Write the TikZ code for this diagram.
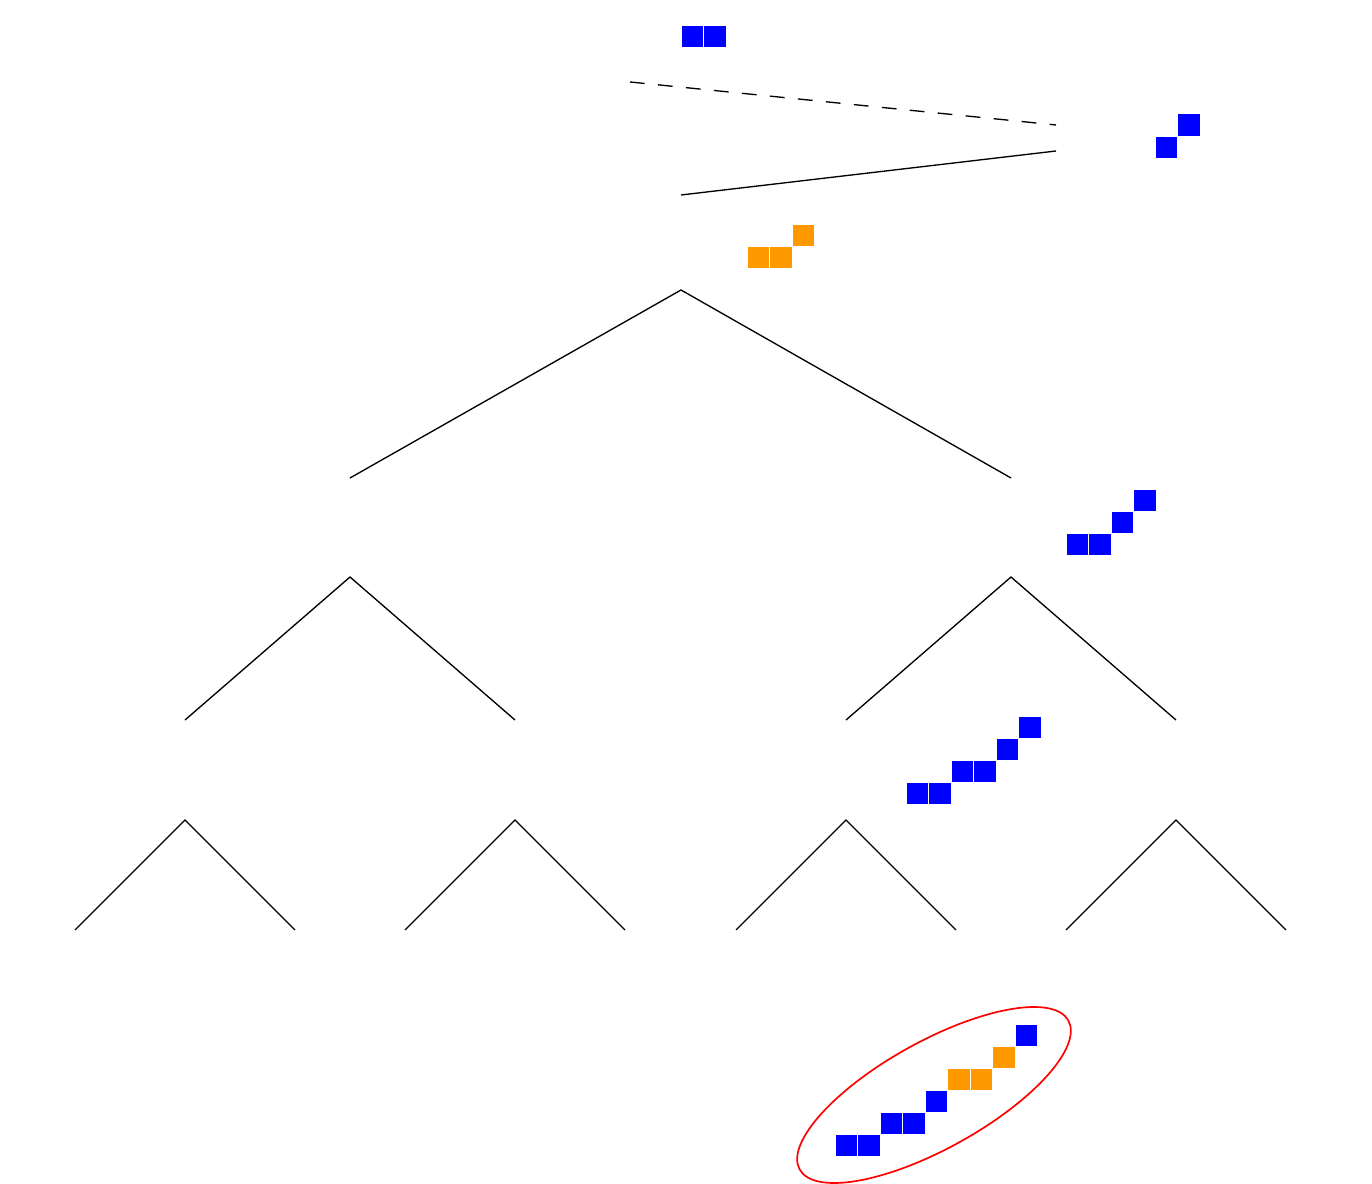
\documentclass[tikz,border=0pt]{standalone}
\usetikzlibrary{shapes.geometric,positioning}
\definecolor{cellblue}{RGB}{0,0,255}
\definecolor{cellorange}{RGB}{255,153,0}
\tikzset{
  cell/.style={draw=white, line width=0.7pt},
  branch/.style={line width=0.95pt},
  loopline/.style={branch, dash pattern=on 10.5pt off 9.5pt},
  pick/.style={draw=red, line width=1.2pt, ellipse, rotate=29, minimum width=7.68cm, minimum height=2.68cm, inner sep=0pt},
}
% one block of cells: anchor, colour, list of col/row
\newcommand{\cells}[3]{%
  \foreach \c/\r in {#3} \filldraw[cell, fill=#2] (#1) ++(\c*0.5625,\r*0.55) rectangle ++(0.5625,0.55);
}

\begin{document}
\begin{tikzpicture}
\useasboundingbox (0,0) rectangle (34.3,29.575);

% top part
\coordinate (start) at (15.75,27.525);
\coordinate (back) at (26.4,26.45);
\coordinate (step) at (26.4,25.8);
\coordinate (rootin) at (17.025,24.7);
\draw[loopline] (start) -- (back);
\draw[branch] (step) -- (rootin);

% tree
\coordinate (root) at (17.025,22.325);
\coordinate (Lin) at (8.75,17.625);
\coordinate (Rin) at (25.275,17.625);
\coordinate (L) at (8.75,15.15);
\coordinate (R) at (25.275,15.15);
\draw[branch] (Lin) -- (root) -- (Rin);

\coordinate (LLin) at (4.625,11.575);
\coordinate (LRin) at (12.875,11.575);
\coordinate (RLin) at (21.15,11.575);
\coordinate (RRin) at (29.4,11.575);
\draw[branch] (LLin) -- (L) -- (LRin);
\draw[branch] (RLin) -- (R) -- (RRin);

\foreach \n/\x in {LL/4.625, LR/12.875, RL/21.15, RR/29.4} {
  \coordinate (\n) at (\x,9.075);
  \coordinate (\n a) at (\x-2.75,6.325);
  \coordinate (\n b) at (\x+2.75,6.325);
  \draw[branch] (\n a) -- (\n) -- (\n b);
}

% blocks
\coordinate (b0) at (17.025,28.375);
\coordinate (b1) at (28.875,25.625);
\coordinate (b2) at (18.675,22.875);
\coordinate (b3) at (26.65,15.7);
\coordinate (b4) at (22.65,9.475);
\coordinate (b5) at (20.875,0.675);
\cells{b0}{cellblue}{0/0,1/0}
\cells{b1}{cellblue}{0/0,1/1}
\cells{b2}{cellorange}{0/0,1/0,2/1}
\cells{b3}{cellblue}{0/0,1/0,2/1,3/2}
\cells{b4}{cellblue}{0/0,1/0,2/1,3/1,4/2,5/3}
\cells{b5}{cellblue}{0/0,1/0,2/1,3/1,4/2,8/5}
\cells{b5}{cellorange}{5/3,6/3,7/4}

\node[pick] (found) at (23.35,2.2) {};
\end{tikzpicture}
\end{document}
